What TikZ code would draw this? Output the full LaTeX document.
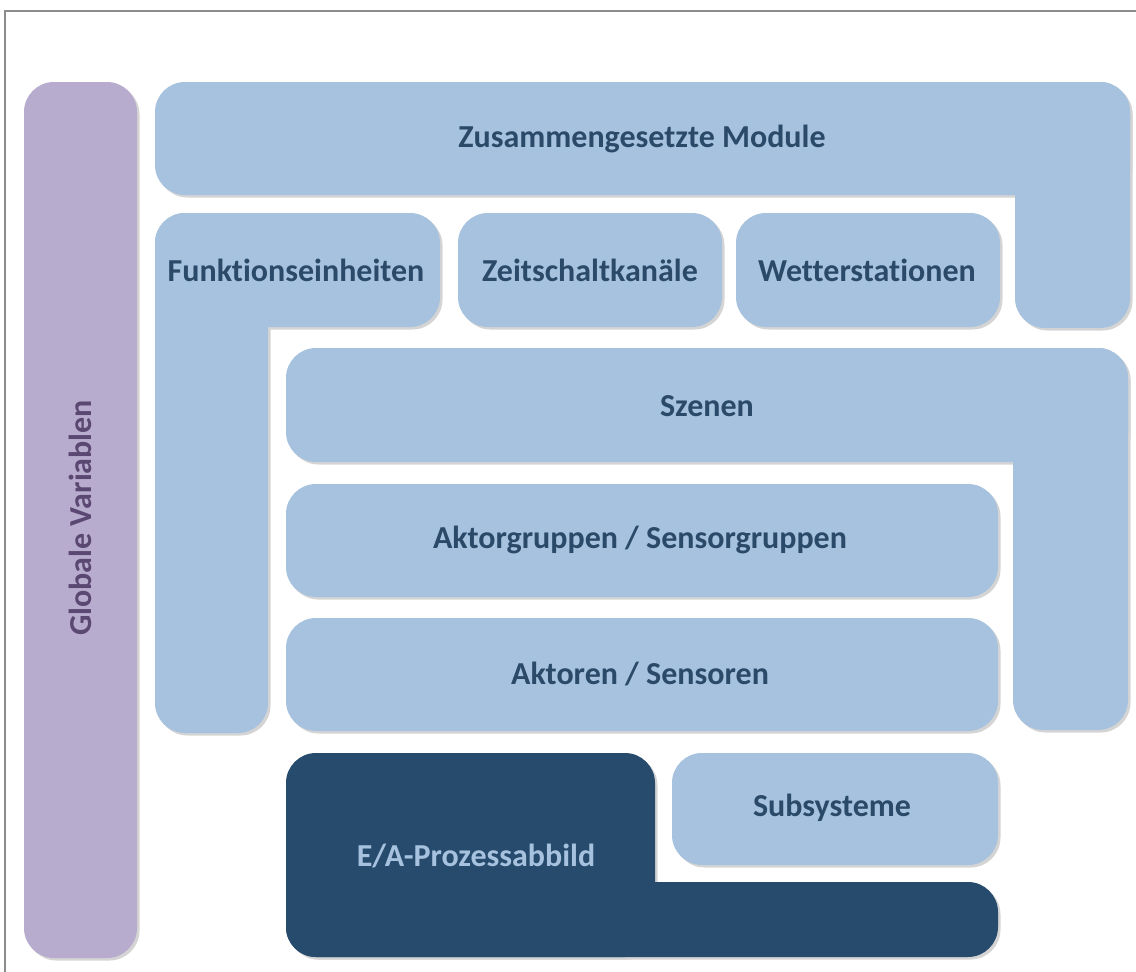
\documentclass[tikz,border=0pt]{standalone}
\usepackage{fontspec}
\setmainfont[RawFeature=-liga]{Carlito}
\newfontfamily\gvfont[RawFeature=-liga]{Carlito}
\definecolor{lb}{HTML}{A6C2DE}
\definecolor{pu}{HTML}{B8ACCE}
\definecolor{nv}{HTML}{274B6D}
\definecolor{tx}{HTML}{2B4A6A}
\definecolor{gvt}{HTML}{5B4872}
\definecolor{shd}{HTML}{D4D4D4}
\tikzset{
  blk/.style={rounded corners=30pt, fill=lb},
  shadowblk/.style={rounded corners=30pt, fill=shd},
  lbl/.style={font=\bfseries\fontsize{32}{35}\selectfont, text=tx, inner sep=0pt},
}
\begin{document}
\begin{tikzpicture}[x=1pt,y=-1pt]
\useasboundingbox (0,0) rectangle (1136,972);
\fill[white] (0,0) rectangle (1136,972);
% frame
\draw[gray!90, line width=2pt] (5,972) -- (5,11) -- (1136,11);

% shadows
\begin{scope}[shift={(2.5,2.5)}]
\fill[shadowblk] (24,82) rectangle (137,958);
\fill[shadowblk] (155,82) rectangle (1130,195);
\fill[shadowblk] (1015,82) rectangle (1130,328);
\fill[shadowblk] (155,213) rectangle (440,327);
\fill[shadowblk] (155,213) rectangle (268,733);
\fill[shadowblk] (458,213) rectangle (722,327);
\fill[shadowblk] (736,213) rectangle (1000,327);
\fill[shadowblk] (286,348) rectangle (1128,462);
\fill[shadowblk] (1013,348) rectangle (1128,730);
\fill[shadowblk] (286,484) rectangle (998,597);
\fill[shadowblk] (286,618) rectangle (998,731);
\fill[shadowblk] (286,753) rectangle (655,957);
\fill[shadowblk] (286,882) rectangle (998,957);
\fill[shadowblk] (672,753) rectangle (998,865);
\end{scope}

% Globale Variablen
\fill[blk, fill=pu] (24,82) rectangle (137,958);
\node[font=\gvfont\bfseries\fontsize{32}{35}\selectfont, text=gvt, rotate=90, inner sep=0pt] (gv) at (80.5,518) {Globale Variablen};

% Zusammengesetzte Module (L-shape)
\fill[blk] (155,82) rectangle (1130,195);
\fill[blk] (1015,82) rectangle (1130,328);
\node[lbl] (zm) at (642,139) {Zusammengesetzte Module};

% Funktionseinheiten (L-shape)
\fill[blk] (155,213) rectangle (440,327);
\fill[blk] (155,213) rectangle (268,733);
\node[lbl] (fe) at (296,270) {Funktionseinheiten};

% Zeitschaltkanäle
\fill[blk] (458,213) rectangle (722,327);
\node[lbl] (zk) at (590,270) {Zeitschaltkanäle};

% Wetterstationen
\fill[blk] (736,213) rectangle (1000,327);
\node[lbl] (ws) at (867,270) {Wetterstationen};

% Szenen (L-shape)
\fill[blk] (286,348) rectangle (1128,462);
\fill[blk] (1013,348) rectangle (1128,730);
\node[lbl] (sz) at (707,406) {Szenen};

% Aktorgruppen / Sensorgruppen
\fill[blk] (286,484) rectangle (998,597);
\node[lbl] (ag) at (640,540) {Aktorgruppen / Sensorgruppen};

% Aktoren / Sensoren
\fill[blk] (286,618) rectangle (998,731);
\node[lbl] (as) at (640,674) {Aktoren / Sensoren};

% E/A-Prozessabbild (L-shape)
\fill[blk, fill=nv] (286,753) rectangle (655,957);
\fill[blk, fill=nv] (286,882) rectangle (998,957);
\node[lbl, text=lb] (ea) at (476,856) {E/A-Prozessabbild};

% Subsysteme
\fill[blk] (672,753) rectangle (998,865);
\node[lbl] (ss) at (832,808) {Subsysteme};
\end{tikzpicture}
\end{document}
